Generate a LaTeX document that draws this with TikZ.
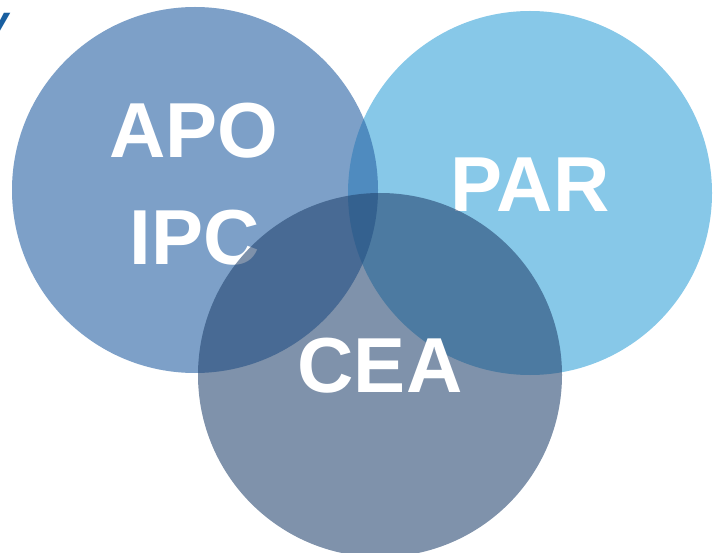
\documentclass[tikz,border=0pt]{standalone}
\usepackage{fontspec}
\setmainfont{Liberation Sans}
\definecolor{parblue}{RGB}{135,200,232}
\definecolor{apoblue}{RGB}{45,102,166}
\definecolor{ceablue}{RGB}{34,67,110}
\definecolor{titleblue}{RGB}{25,95,160}
\begin{document}
\begin{tikzpicture}[
    x=1pt, y=-1pt,
    circ/.style={circle, draw=none, inner sep=0pt, minimum size=#1},
    lbl/.style={text=white, font=\fontsize{78}{80}\selectfont\bfseries, inner sep=0pt}
  ]
    \useasboundingbox (0,0) rectangle (719,553);
    \node[text=titleblue, font=\fontsize{44}{46}\selectfont\bfseries\itshape,
          anchor=base east, inner sep=0pt] (title) at (9,37) {y};

    \node[circ=364pt, fill=parblue] (par) at (530,193) {};
    \node[circ=366pt, fill=apoblue, fill opacity=0.62] (apo) at (195,190) {};

    \node[lbl] (apotext) at (194,131) {APO};
    \node[lbl] (ipctext) at (195,238) {IPC};
    \node[lbl] (partext) at (530,185) {PAR};

    \node[circ=364pt, fill=ceablue, fill opacity=0.58] (cea) at (380,375) {};
    \node[lbl] (ceatext) at (380,366) {CEA};
  \end{tikzpicture}
\end{document}
